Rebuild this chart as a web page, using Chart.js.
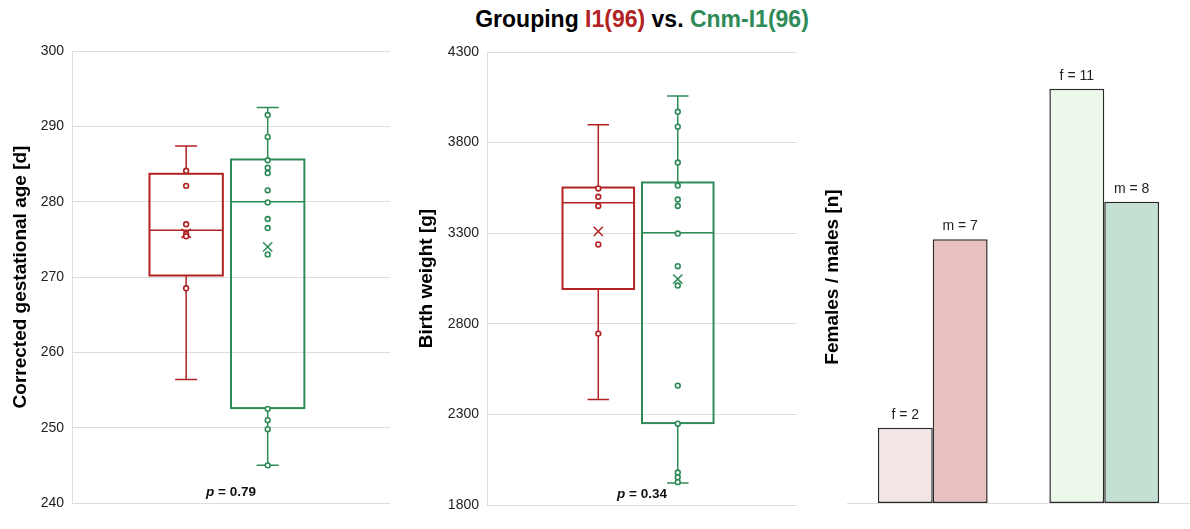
<!DOCTYPE html>
<html>
<head>
<meta charset="utf-8">
<script src="https://cdn.jsdelivr.net/npm/chart.js@4"></script>
<style>
  body { margin: 0; background: #fff; font-family: "Liberation Sans", Arial, sans-serif; }
  #wrap { position: relative; width: 1190px; height: 529px; overflow: hidden; }
  #title { position: absolute; left: 0; top: 5px; width: 1284px; text-align: center;
           font-weight: bold; font-size: 23px; line-height: 28px; color: #000; }
  .red { color: #b22222; }
  .green { color: #2e8b57; }
  canvas { position: absolute; top: 0; }
</style>
</head>
<body>
<div id="wrap">
  <div id="title">Grouping <span class="red">I1(96)</span> vs. <span class="green">Cnm-I1(96)</span></div>
  <canvas id="gaChart" width="392" height="529" style="left:0px"></canvas>
  <canvas id="bwChart" width="400" height="529" style="left:400px"></canvas>
  <canvas id="sexChart" width="390" height="529" style="left:800px"></canvas>
</div>
<script>
'use strict';

// groups and where their boxes sit on the x scale
var groups = ['I1(96)', 'Cnm-I1(96)'];
var groupPos = [1, 2];
var groupColors = ['#b22222', '#2e8b57'];

// corrected gestational age [d]
var gaMin = [256.4, 245.0];
var gaQ1 = [270.2, 252.6];
var gaMedian = [276.2, 280.0];
var gaQ3 = [283.7, 285.6];
var gaMax = [287.4, 292.5];
var gaMean = [275.8, 274.0];
var gaPointsI1 = [284.1, 282.1, 277.0, 275.7, 275.4, 268.5];
var gaPointsCnm = [291.5, 288.6, 285.5, 284.5, 283.8, 281.5, 279.9, 277.7, 276.5, 273.0, 252.5, 251.0, 249.8, 245.0];
var gaTicks = [240, 250, 260, 270, 280, 290, 300];

// birth weight [g]
var bwMin = [2382, 1922];
var bwQ1 = [2992, 2252];
var bwMedian = [3468, 3302];
var bwQ3 = [3552, 3580];
var bwMax = [3899, 4057];
var bwMean = [3310, 3047];
var bwPointsI1 = [3547, 3501, 3450, 3238, 2746];
var bwPointsCnm = [3970, 3888, 3690, 3563, 3486, 3450, 3298, 3118, 3011, 2459, 2249, 1979, 1953, 1926];
var bwTicks = [1800, 2300, 2800, 3300, 3800, 4300];

// females / males
var females = [2, 11];
var males = [7, 8];
var femaleColors = ['#f4e6e6', '#ebf8ea'];
var maleColors = ['#e8c0c0', '#c4e0d2'];

var FONT = '"Liberation Sans", Arial, Helvetica, sans-serif';
var GRID = '#dedede';

// box + whiskers drawn through the chart scales
var boxPlugin = {
  id: 'boxes',
  beforeDatasetsDraw: function(chart) {
    var o = chart.options.plugins.boxes;
    if (!o) return;
    var ctx = chart.ctx, xs = chart.scales.x, ys = chart.scales.y;
    ctx.save();
    for (var i = 0; i < groupPos.length; i++) {
      var xl = xs.getPixelForValue(groupPos[i] - 0.45);
      var xr = xs.getPixelForValue(groupPos[i] + 0.45);
      var xc = xs.getPixelForValue(groupPos[i]);
      var cl = xs.getPixelForValue(groupPos[i] - 0.135);
      var cr = xs.getPixelForValue(groupPos[i] + 0.135);
      var yMin = ys.getPixelForValue(o.min[i]);
      var yQ1 = ys.getPixelForValue(o.q1[i]);
      var yMed = ys.getPixelForValue(o.median[i]);
      var yQ3 = ys.getPixelForValue(o.q3[i]);
      var yMax = ys.getPixelForValue(o.max[i]);
      ctx.strokeStyle = groupColors[i];
      // whiskers
      ctx.lineWidth = 1.5;
      ctx.beginPath();
      ctx.moveTo(xc, yQ3); ctx.lineTo(xc, yMax);
      ctx.moveTo(cl, yMax); ctx.lineTo(cr, yMax);
      ctx.moveTo(xc, yQ1); ctx.lineTo(xc, yMin);
      ctx.moveTo(cl, yMin); ctx.lineTo(cr, yMin);
      ctx.stroke();
      // box
      ctx.lineWidth = 2;
      ctx.strokeRect(xl, yQ3, xr - xl, yQ1 - yQ3);
      // median
      ctx.lineWidth = 1.5;
      ctx.beginPath();
      ctx.moveTo(xl, yMed); ctx.lineTo(xr, yMed);
      ctx.stroke();
    }
    // p value
    var area = chart.chartArea;
    var cx = (area.left + area.right) / 2, cy = area.bottom - 11;
    ctx.fillStyle = '#111';
    ctx.textBaseline = 'middle';
    ctx.font = 'italic bold 13.5px ' + FONT;
    var pw = ctx.measureText('p').width;
    ctx.font = 'bold 13.5px ' + FONT;
    var rest = ' = ' + o.p;
    var rw = ctx.measureText(rest).width;
    var sx = cx - (pw + rw) / 2;
    ctx.font = 'italic bold 13.5px ' + FONT;
    ctx.textAlign = 'left';
    ctx.fillText('p', sx, cy);
    ctx.font = 'bold 13.5px ' + FONT;
    ctx.fillText(rest, sx + pw, cy);
    ctx.restore();
  }
};

function pointSet(values, pos, color) {
  return {
    data: values.map(function(v) { return { x: pos, y: v }; }),
    pointStyle: 'circle',
    pointRadius: 2.4,
    pointBorderWidth: 1.6,
    pointBorderColor: color,
    pointBackgroundColor: '#fff'
  };
}

function meanSet(values) {
  return {
    data: values.map(function(v, i) { return { x: groupPos[i], y: v }; }),
    pointStyle: 'crossRot',
    pointRadius: 6.5,
    pointBorderWidth: 1.5,
    pointBorderColor: groupColors,
    pointBackgroundColor: groupColors
  };
}

function boxChart(id, title, ticks, stats, ptsA, ptsB, axisWidth, titlePad, top, bottom, right) {
  return new Chart(document.getElementById(id).getContext('2d'), {
    type: 'scatter',
    data: {
      datasets: [
        pointSet(ptsA, groupPos[0], groupColors[0]),
        pointSet(ptsB, groupPos[1], groupColors[1]),
        meanSet(stats.mean)
      ]
    },
    options: {
      responsive: false,
      animation: false,
      layout: { autoPadding: false, padding: { top: top, bottom: bottom, left: 0, right: right } },
      plugins: { legend: { display: false }, tooltip: { enabled: false }, boxes: stats },
      scales: {
        x: { type: 'linear', min: -0.4, max: 3.5, display: false },
        y: {
          min: ticks[0], max: ticks[ticks.length - 1],
          afterBuildTicks: function(s) { s.ticks = ticks.map(function(v) { return { value: v }; }); },
          afterFit: function(s) { s.width = axisWidth; },
          grid: { color: GRID, lineWidth: 1, drawTicks: false },
          border: { display: true, color: GRID, width: 1 },
          ticks: {
            padding: 8, color: '#222', font: { family: FONT, size: 14 },
            callback: function(v) { return String(v); }
          },
          title: {
            display: true, text: title, color: '#000',
            font: { family: FONT, size: 19, weight: 'bold' },
            padding: { top: titlePad, bottom: 0 }
          }
        }
      }
    },
    plugins: [boxPlugin]
  });
}

boxChart('gaChart', 'Corrected gestational age [d]', gaTicks,
  { min: gaMin, q1: gaQ1, median: gaMedian, q3: gaQ3, max: gaMax, mean: gaMean, p: '0.79' },
  gaPointsI1, gaPointsCnm, 72, 9, 51, 26, 2);

boxChart('bwChart', 'Birth weight [g]', bwTicks,
  { min: bwMin, q1: bwQ1, median: bwMedian, q3: bwQ3, max: bwMax, mean: bwMean, p: '0.34' },
  bwPointsI1, bwPointsCnm, 87, 15, 52, 24, 3);

// labels above the sex bars
var barLabels = {
  id: 'barLabels',
  afterDatasetsDraw: function(chart) {
    var ctx = chart.ctx;
    ctx.save();
    ctx.fillStyle = '#222';
    ctx.font = '14px ' + FONT;
    ctx.textAlign = 'center';
    ctx.textBaseline = 'middle';
    chart.data.datasets.forEach(function(ds, di) {
      chart.getDatasetMeta(di).data.forEach(function(bar, i) {
        ctx.fillText(ds.prefix + ' = ' + ds.data[i], bar.x, bar.y - 13);
      });
    });
    ctx.restore();
  }
};

new Chart(document.getElementById('sexChart').getContext('2d'), {
  type: 'bar',
  data: {
    labels: groups,
    datasets: [
      { prefix: 'f', data: females, backgroundColor: femaleColors, borderColor: '#2a2a2a', borderWidth: 1.5, borderSkipped: false },
      { prefix: 'm', data: males, backgroundColor: maleColors, borderColor: '#2a2a2a', borderWidth: 1.5, borderSkipped: false }
    ]
  },
  options: {
    responsive: false,
    animation: false,
    layout: { autoPadding: false, padding: { top: 51, bottom: 26, left: 0, right: 0 } },
    plugins: { legend: { display: false }, tooltip: { enabled: false } },
    datasets: { bar: { categoryPercentage: 0.64, barPercentage: 1 } },
    scales: {
      x: {
        afterFit: function(s) { s.height = 0; },
        grid: { display: false },
        border: { display: true, color: GRID, width: 1 },
        ticks: { display: false }
      },
      y: {
        min: 0, max: 12,
        afterFit: function(s) { s.width = 47; },
        grid: { display: false },
        border: { display: false },
        ticks: { display: false },
        title: {
          display: true, text: 'Females / males [n]', color: '#000',
          font: { family: FONT, size: 19, weight: 'bold' },
          padding: { top: 21, bottom: 0 }
        }
      }
    }
  },
  plugins: [barLabels]
});
</script>
</body>
</html>
